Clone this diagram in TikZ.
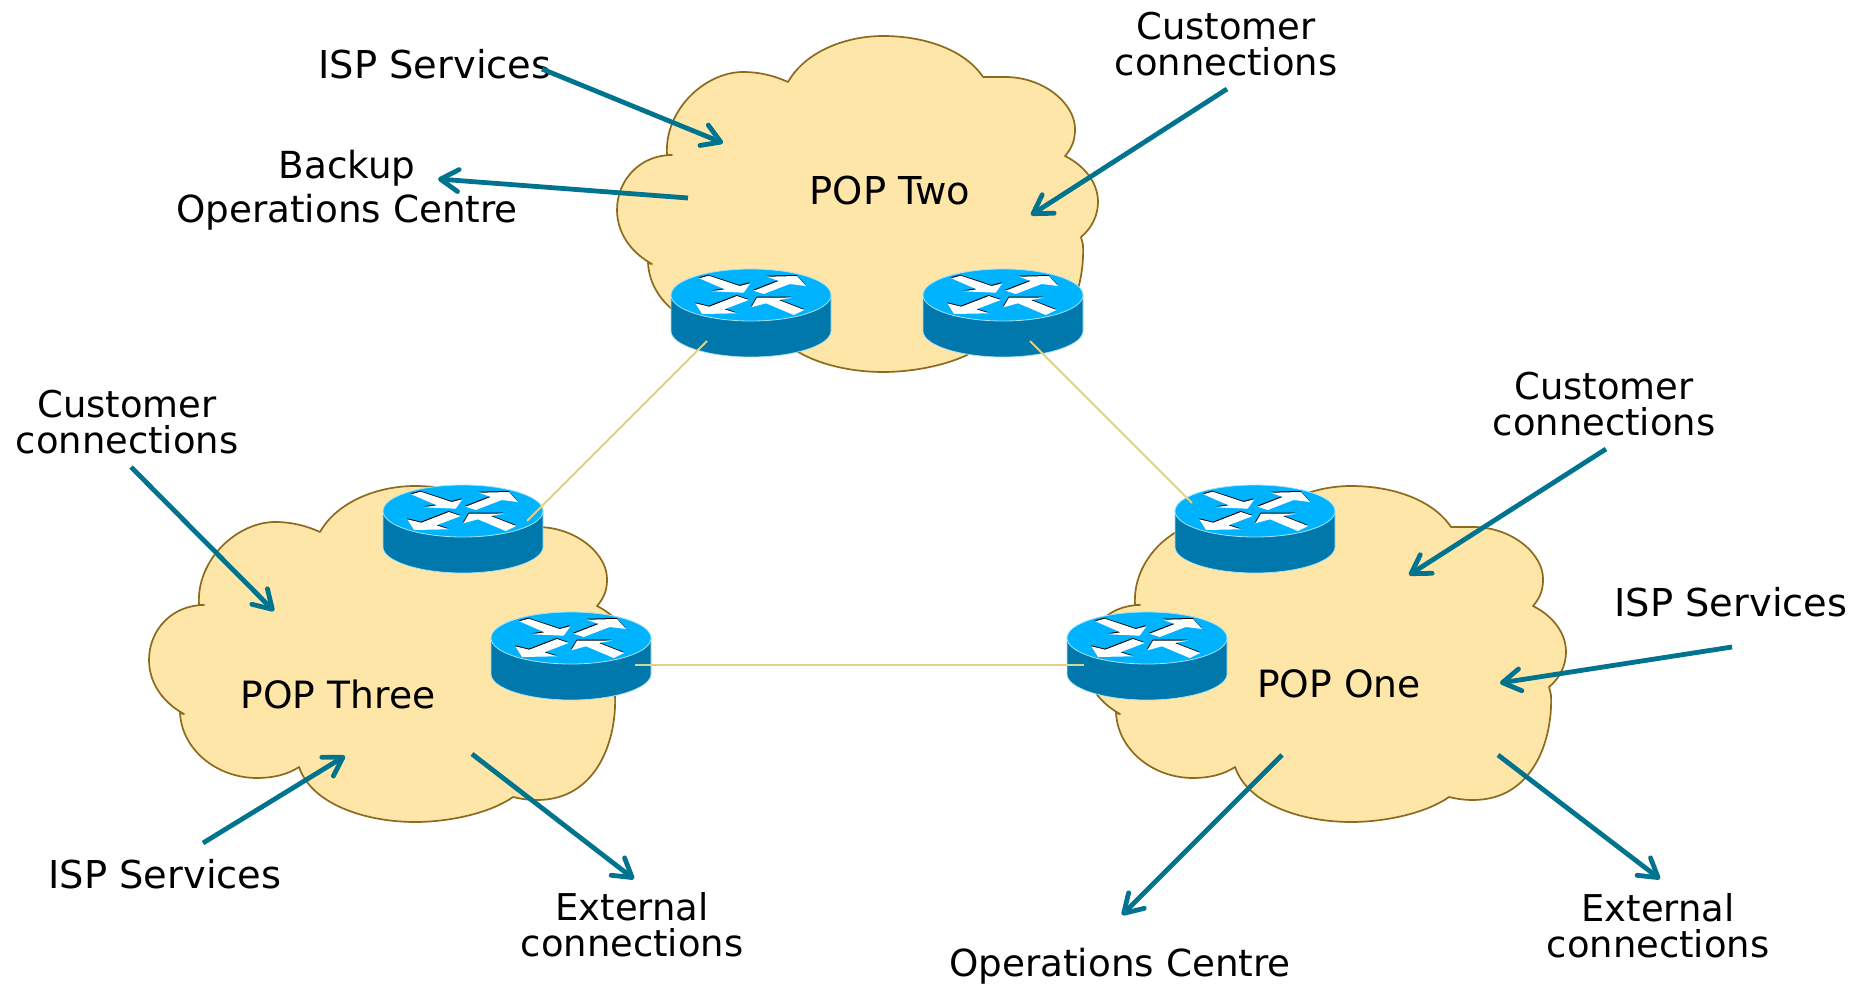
\documentclass[tikz,border=0pt]{standalone}
\usepackage{fontspec}
\setmainfont{DejaVu Sans}
\usetikzlibrary{arrows.meta,calc}
\definecolor{cloudfill}{HTML}{FDE6A7}
\definecolor{cloudline}{HTML}{8C6A1E}
\definecolor{teal}{HTML}{00748F}
\definecolor{rtop}{HTML}{00B3FF}
\definecolor{rbody}{HTML}{0078AB}
\definecolor{redge}{HTML}{A6E2F5}
\definecolor{linkc}{HTML}{DAD48C}
\tikzset{
  cloudshape/.style={fill=cloudfill,draw=cloudline,line width=1.7pt,line join=round},
  bodyshape/.style={fill=rbody,draw=redge,line width=.7pt},
  topshape/.style={fill=rtop,draw=redge,line width=.8pt},
  glyphw/.style={fill=white},
  glyphk/.style={fill=black},
  linkline/.style={draw=linkc,line width=2pt},
  feed/.style={draw=teal,line width=4.8pt,-{Straight Barb[length=18pt,width=22pt,line width=4.8pt,round]}},
  lbl/.style={align=center,inner sep=0pt,font=\fontsize{37.6}{36}\selectfont,text=black},
  lblwide/.style={lbl,font=\fontsize{38.4}{36}\selectfont},
  lblnarrow/.style={lbl,font=\fontsize{36.9}{36}\selectfont},
  anchorpt/.style={inner sep=0pt,minimum size=0pt,draw=none}
}
\newcommand{\cloudpath}{
  (667,155) .. controls (664,110) and (705,72) .. (743,72)
  .. controls (760,72) and (775,76) .. (788,82)
  .. controls (805,52) and (845,36) .. (883,36)
  .. controls (925,36) and (965,50) .. (983,77)
  -- (1005,77) .. controls (1045,77) and (1076,105) .. (1075,130)
  .. controls (1075,140) and (1072,148) .. (1065,156)
  .. controls (1085,166) and (1098,183) .. (1098,202)
  .. controls (1098,215) and (1092,228) .. (1081,237)
  -- (1083,245) .. controls (1085,290) and (1065,350) .. (1005,350)
  .. controls (997,350) and (989,349) .. (981,347)
  .. controls (960,362) and (920,372) .. (883,372)
  .. controls (835,372) and (780,355) .. (767,317)
  .. controls (755,325) and (740,328) .. (725,328)
  .. controls (685,328) and (650,300) .. (648,263)
  -- (652,264) .. controls (630,252) and (617,232) .. (617,210)
  .. controls (617,180) and (640,155) .. (672,155) -- cycle
}
\newcommand{\rglyphs}[1]{%
  \path[#1] (-51.7,-16.7) -- (-42.3,-19.3) -- (-11.3,-9) -- (-.7,-11.7) -- (-7.3,-2.3) -- (-39,-3.7) -- (-26.3,-5.7) -- cycle;
  \path[#1] (2.7,-4.3) -- (27.7,-14) -- (16,-18.3) -- (46,-19) -- (55,-9) -- (38.7,-11) -- (12.7,-1) -- cycle;
  \path[#1] (-55.7,8.3) -- (-41.7,11.7) -- (-14,1) -- (-2.3,5) -- (-26.7,14.3) -- (-14,18.3) -- (-49,19) -- cycle;
  \path[#1] (.3,12.3) -- (6,2.7) -- (41,2.7) -- (27.7,5) -- (53.3,15) -- (42.7,20) -- (15,8.3) -- cycle;
}
\newcommand{\routerat}[3]{%
  \begin{scope}[shift={(#2,#3)}]
    \path[bodyshape] (-80,0) -- (-80,36) .. controls (-80,50) and (-44,62) .. (0,62)
      .. controls (44,62) and (80,50) .. (80,36) -- (80,0) -- cycle;
    \path[topshape] (0,0) ellipse [x radius=80pt,y radius=26pt];
    \begin{scope}[shift={(-.4,-1)}]\rglyphs{glyphk}\end{scope}
    \rglyphs{glyphw}
    \node[anchorpt] (#1) at (0,0) {};
  \end{scope}%
}
\begin{document}
\begin{tikzpicture}[x=1pt,y=-1pt]
\useasboundingbox (0,0) rectangle (1868,984);
% clouds
\path[cloudshape] \cloudpath;
\begin{scope}[xshift=-468pt,yshift=-450pt]
  \path[cloudshape] \cloudpath;
\end{scope}
\begin{scope}[xshift=468pt,yshift=-450pt]
  \path[cloudshape] \cloudpath;
\end{scope}
% routers
\routerat{rTwoL}{751}{295}
\routerat{rTwoR}{1003}{295}
\routerat{rThreeT}{463}{511}
\routerat{rThreeR}{571}{638}
\routerat{rOneT}{1255}{511}
\routerat{rOneL}{1147}{638}
% links
\draw[linkline] ($(rTwoL)+(-44pt,-46pt)$) -- ($(rThreeT)+(64pt,-10pt)$);
\draw[linkline] ($(rTwoR)+(27pt,-46pt)$) -- ($(rOneT)+(-63pt,8pt)$);
\draw[linkline] ($(rThreeR)+(64pt,-27pt)$) -- ($(rOneL)+(-63pt,-27pt)$);
% labels
\node[lblwide] (popTwo) at (890,191) {POP Two};
\node[lbl] (popThree) at (338,694) {POP Three};
\node[lbl] (popOne) at (1339,684) {POP One};
\node[lblwide] (ispTwo) at (435,64) {ISP Services};
\node[lbl,font=\fontsize{37.3}{44}\selectfont] (backup) at (347,190) {Backup\\Operations Centre};
\node[lblnarrow] (custTwo) at (1226,44) {Customer\\connections};
\node[lblnarrow] (custThree) at (127,422) {Customer\\connections};
\node[lblnarrow] (custOne) at (1604,404) {Customer\\connections};
\node[lblwide] (ispOne) at (1731,602) {ISP Services};
\node[lblwide] (ispThree) at (165,874) {ISP Services};
\node[lblnarrow] (extThree) at (632,925) {External\\connections};
\node[lblnarrow] (extOne) at (1658,926) {External\\connections};
\node[lbl,font=\fontsize{37.3}{36}\selectfont] (ops) at (1120,966) {Operations Centre};
% arrow end points
\coordinate (a1) at (542,69);   \coordinate (b1) at (723,143);
\coordinate (a2) at (688,198);  \coordinate (b2) at (438,179);
\coordinate (a3) at (1227,89);  \coordinate (b3) at (1031,215);
\coordinate (a4) at (131,467);  \coordinate (b4) at (274,611);
\coordinate (a5) at (203,843);  \coordinate (b5) at (345,756);
\coordinate (a6) at (472,754);  \coordinate (b6) at (634,879);
\coordinate (a7) at (1606,449); \coordinate (b7) at (1409,575);
\coordinate (a8) at (1732,647); \coordinate (b8) at (1500,683);
\coordinate (a9) at (1282,755); \coordinate (b9) at (1122,915);
\coordinate (a10) at (1498,755);\coordinate (b10) at (1660,879);
\foreach \i in {1,...,10}{\draw[feed] (a\i) -- (b\i);}
\end{tikzpicture}
\end{document}
